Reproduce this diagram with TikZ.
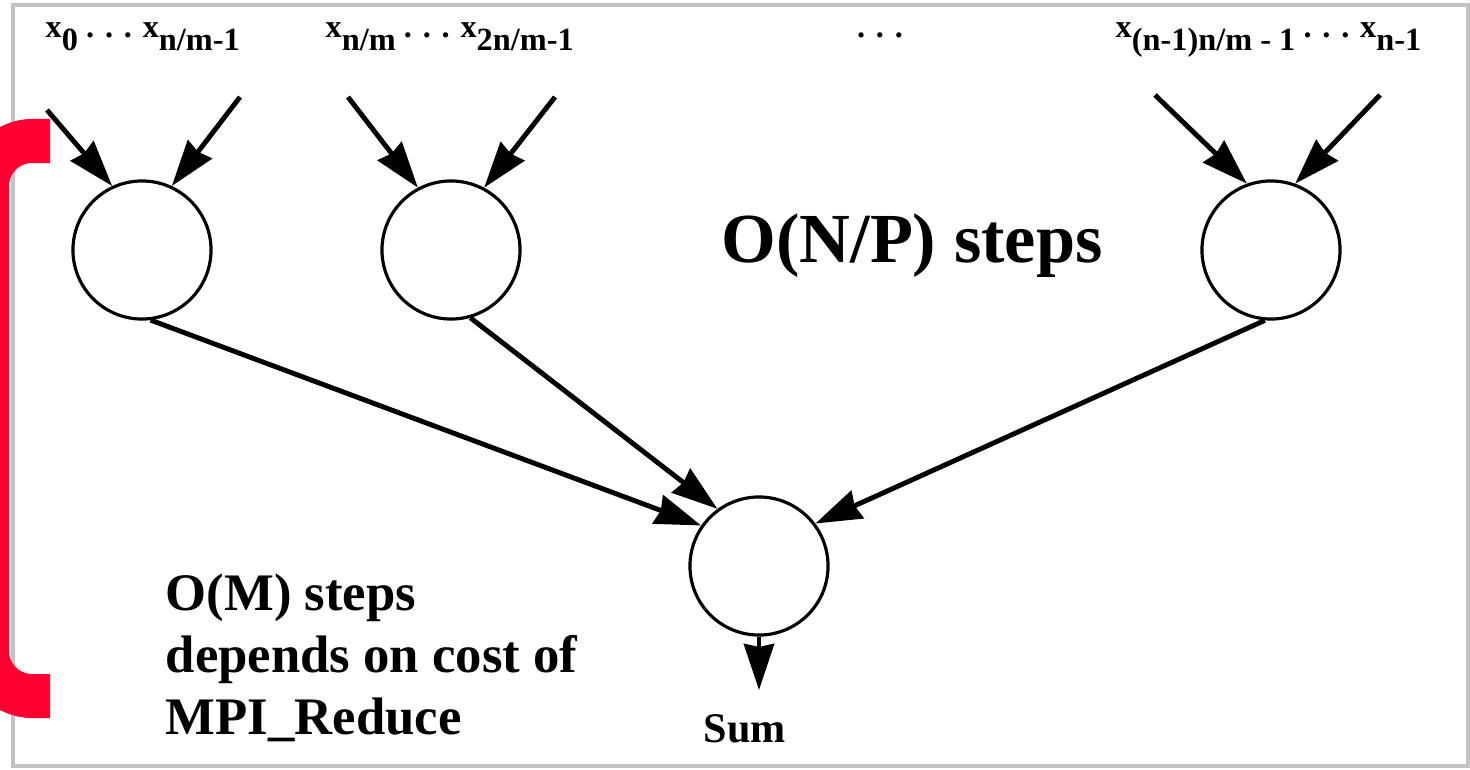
\documentclass[tikz,border=0pt]{standalone}
\usepackage{fontspec}
\setmainfont{Liberation Serif}
\usetikzlibrary{arrows.meta}
\definecolor{bracketred}{RGB}{255,0,48}
\definecolor{framegray}{RGB}{195,195,195}
\newcommand{\lowsub}[1]{\raisebox{-3.7pt}{#1}}
\begin{document}
\begin{tikzpicture}[
  x=0.01cm, y=-0.01cm,
  procnode/.style={circle, draw=black, line width=0.9pt, minimum size=1.38cm, inner sep=0pt},
  inarrow/.style={-{Stealth[length=0.46cm, width=0.3cm, inset=0.03cm]}, line width=1.4pt},
  rangelabel/.style={anchor=base west, inner sep=0pt, font=\bfseries\fontsize{9.2}{10}\selectfont},
  costlabel/.style={inner sep=0pt, font=\bfseries\fontsize{20}{24}\selectfont}
]
\useasboundingbox (0,0) rectangle (1470,769);
\fill[white] (0,0) rectangle (1470,769);

% Frame and bracket
\draw[framegray, line width=1.1pt] (13,5) rectangle (1468,766);
\draw[bracketred, line width=0.44cm, rounded corners=0.45cm] (50,141) -- (-13,141) -- (-13,696) -- (50,696);

% Local sums
\node[procnode] (sum_a) at (142,250) {};
\node[procnode] (sum_b) at (451,250) {};
\node[procnode] (sum_c) at (1271,250) {};
\node[procnode] (total) at (759,566) {};

% Inputs
\coordinate (in_a1) at (47,110);
\coordinate (in_a2) at (240,97);
\coordinate (in_b1) at (348,97);
\coordinate (in_b2) at (555,97);
\coordinate (in_c1) at (1155,95);
\coordinate (in_c2) at (1380,95);
\coordinate (out_end) at (759,690);

\draw[inarrow] (in_a1) -- (sum_a.115);
\draw[inarrow] (in_a2) -- (sum_a.65);
\draw[inarrow] (in_b1) -- (sum_b.118);
\draw[inarrow] (in_b2) -- (sum_b.62);
\draw[inarrow] (in_c1) -- (sum_c.110);
\draw[inarrow] (in_c2) -- (sum_c.70);

% Reduce
\draw[inarrow] (sum_a.-83) -- (total.145);
\draw[inarrow] (sum_b.-74) -- (total.126);
\draw[inarrow] (sum_c.-95) -- (total.37);
\draw[inarrow] (total.south) -- (out_end);

% Labels
\node[rangelabel] (lab_a) at (45,37) {x\lowsub{0} . . . x\lowsub{n/m-1}};
\node[rangelabel] (lab_b) at (325,37) {x\lowsub{n/m} . . . x\lowsub{2n/m-1}};
\node[rangelabel, anchor=base] (lab_dots) at (880,37) {. . .};
\node[rangelabel] (lab_c) at (1115,37) {x\lowsub{(n-1)n/m - 1} . . . x\lowsub{n-1}};
\node[inner sep=0pt, anchor=base, font=\bfseries\fontsize{12}{14}\selectfont] (sum_lab) at (745,742) {Sum};

\node[costlabel, anchor=base] (np_cost) at (912,262) {O(N/P) steps};
\node[inner sep=0pt, anchor=north west, align=left, font=\bfseries\fontsize{15}{17.6}\selectfont] (m_cost) at (165,573)
  {O(M) steps\\depends on cost of\\MPI\_Reduce};

\end{tikzpicture}
\end{document}
